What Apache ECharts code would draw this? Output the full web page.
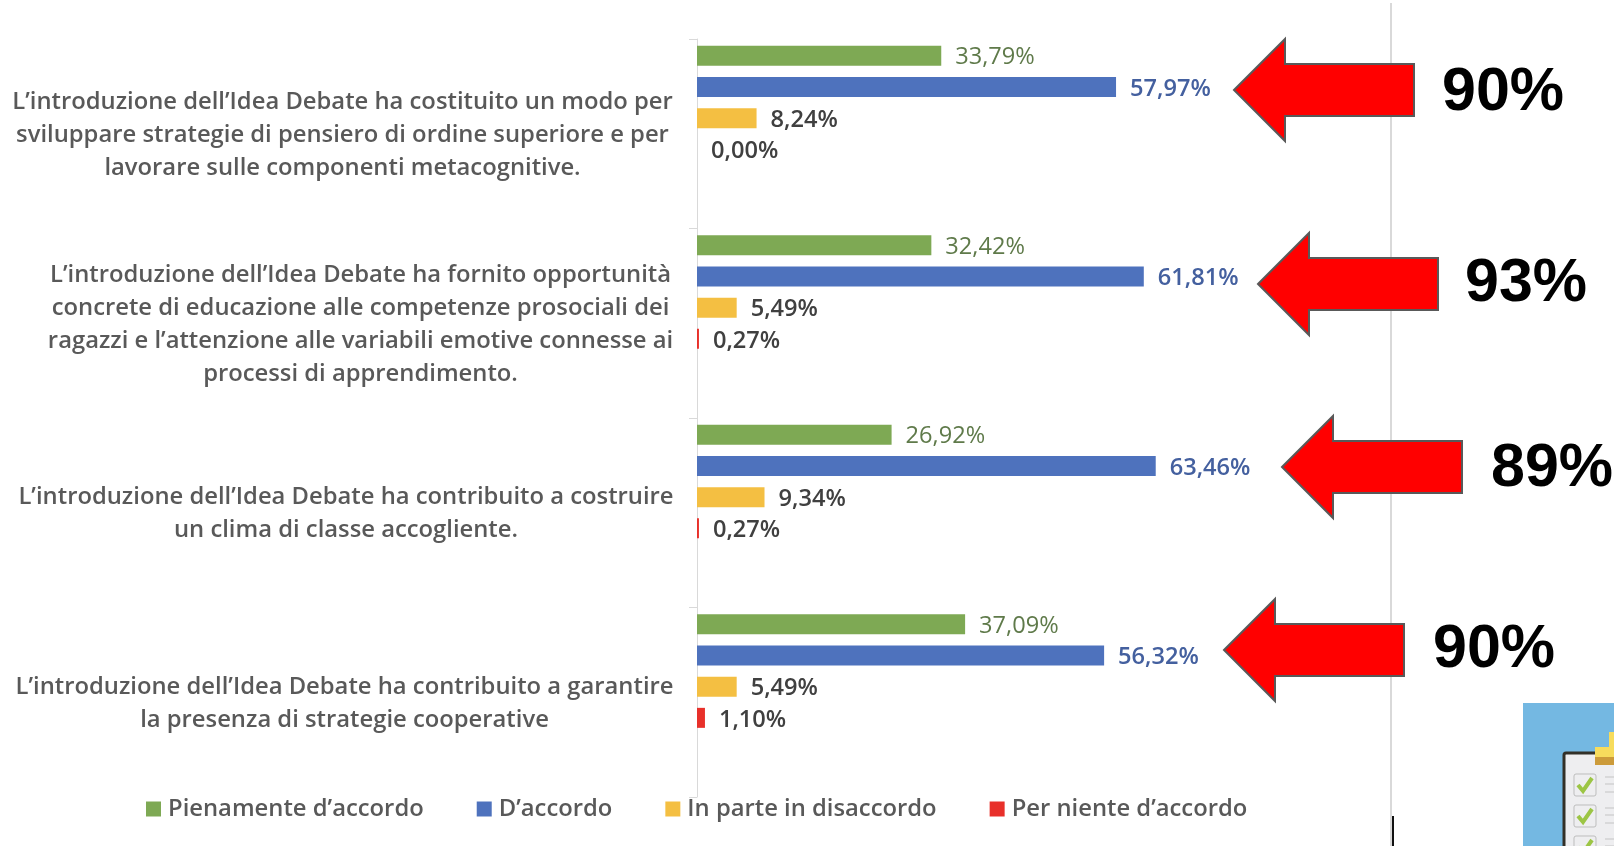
<!DOCTYPE html>
<html>
<head>
<meta charset="utf-8">
<title>Idea Debate</title>
<style>
  html, body { margin: 0; padding: 0; background: #fff; }
  #main { width: 1614px; height: 846px; }
</style>
<script src="https://cdn.jsdelivr.net/npm/echarts@6/dist/echarts.min.js"></script>
</head>
<body>
<div id="main"></div>
<script>
const categories = [
  'L’introduzione dell’Idea Debate ha costituito un modo per\nsviluppare strategie di pensiero di ordine superiore e per\nlavorare sulle componenti metacognitive.',
  'L’introduzione dell’Idea Debate ha fornito opportunità\nconcrete di educazione alle competenze prosociali dei\nragazzi e l’attenzione alle variabili emotive connesse ai\nprocessi di apprendimento.',
  'L’introduzione dell’Idea Debate ha contribuito a costruire\nun clima di classe accogliente.',
  'L’introduzione dell’Idea Debate ha contribuito a garantire\nla presenza di strategie cooperative'
];
const pienamente = [33.79, 32.42, 26.92, 37.09];
const accordo = [57.97, 61.81, 63.46, 56.32];
const inParte = [8.24, 5.49, 9.34, 5.49];
const perNiente = [0.00, 0.27, 0.27, 1.10];
const totals = ['90%', '93%', '89%', '90%'];

const seriesNames = ['Pienamente d’accordo', 'D’accordo', 'In parte in disaccordo', 'Per niente d’accordo'];
const FONT = '"Open Sans", sans-serif';
const GREY = '#595959';

function fmt(p) {
  return p.value.toFixed(2).replace('.', ',') + '%';
}

function barSeries(name, data, color, labelColor, weight) {
  return {
    name: name,
    type: 'bar',
    data: data,
    barWidth: 20,
    barGap: '56%',
    itemStyle: { color: color },
    label: {
      show: true,
      position: 'right',
      distance: 14,
      offset: [0, 2],
      formatter: fmt,
      color: labelColor,
      fontFamily: FONT,
      fontSize: 23.6,
      fontWeight: weight
    }
  };
}

// l'originale Excel ha due serie vuote sotto, per questo i gruppi stanno in alto
function spacer() {
  return { type: 'bar', data: [], barWidth: 20, barGap: '56%', silent: true };
}

// frecce e percentuali a destra
const arrowTips = [[1234, 90], [1258, 284], [1282, 467], [1224, 650]];
const totalPos = [[1442, 93], [1465, 284], [1491, 469], [1433, 650]];

function arrow(tip) {
  const x = tip[0], y = tip[1];
  return {
    type: 'polygon',
    z: 10,
    shape: {
      points: [[x, y], [x + 51, y - 51], [x + 51, y - 26], [x + 180, y - 26],
        [x + 180, y + 26], [x + 51, y + 26], [x + 51, y + 51]]
    },
    style: { fill: '#ff0000', stroke: '#595959', lineWidth: 2 }
  };
}

function checkBox(y) {
  return [
    { type: 'rect', shape: { x: 1574, y: y, width: 22, height: 22, r: 2 },
      style: { fill: '#eeeef0', stroke: '#bdbdbd', lineWidth: 1 } },
    { type: 'polyline', shape: { points: [[1578, y + 11], [1583, y + 17], [1592, y + 4]] },
      style: { fill: null, stroke: '#9cc545', lineWidth: 4 } },
    { type: 'line', shape: { x1: 1605, y1: y + 3, x2: 1614, y2: y + 3 }, style: { stroke: '#c4c4c4', lineWidth: 1 } },
    { type: 'line', shape: { x1: 1605, y1: y + 10, x2: 1614, y2: y + 10 }, style: { stroke: '#c4c4c4', lineWidth: 1 } },
    { type: 'line', shape: { x1: 1605, y1: y + 18, x2: 1614, y2: y + 18 }, style: { stroke: '#c4c4c4', lineWidth: 1 } }
  ];
}

const graphics = [
  { type: 'line', z: 1, shape: { x1: 1391, y1: 3, x2: 1391, y2: 846 }, style: { stroke: '#d9d9d9', lineWidth: 2 } },
  { type: 'line', z: 2, shape: { x1: 1393, y1: 816, x2: 1393, y2: 846 }, style: { stroke: '#111', lineWidth: 2 } },
  { type: 'rect', shape: { x: 1523, y: 703, width: 91, height: 143 }, style: { fill: '#74b8e2' } },
  { type: 'rect', shape: { x: 1564, y: 753, width: 60, height: 100, r: 2 },
    style: { fill: '#eeeef0', stroke: '#333028', lineWidth: 3 } },
  { type: 'rect', shape: { x: 1609, y: 732, width: 5, height: 16 }, style: { fill: '#f7dc5c' } },
  { type: 'rect', shape: { x: 1595, y: 747, width: 19, height: 10 }, style: { fill: '#f7dc5c' } },
  { type: 'rect', shape: { x: 1595, y: 757, width: 19, height: 8 }, style: { fill: '#cc9b3a' } }
].concat(checkBox(774), checkBox(805), checkBox(836));

arrowTips.forEach(function (t) { graphics.push(arrow(t)); });
totals.forEach(function (t, i) {
  graphics.push({
    type: 'text',
    z: 11,
    style: {
      x: totalPos[i][0],
      y: totalPos[i][1],
      text: t,
      fill: '#000',
      font: 'bold 61px "Liberation Sans", Arial, sans-serif',
      textVerticalAlign: 'middle'
    }
  });
});

// larghezza del blocco di testo, per centrare le righe
const labelWidths = [659, 623, 652, 655];
const rich = {};
labelWidths.forEach(function (w, i) {
  rich['c' + i] = {
    width: w,
    align: 'center',
    fontFamily: FONT,
    fontSize: 23.8,
    fontWeight: 600,
    color: GREY,
    lineHeight: 33
  };
});

const chart = echarts.init(document.getElementById('main'));
chart.setOption({
  animation: false,
  backgroundColor: '#fff',
  legend: {
    data: seriesNames,
    left: 141,
    top: 792,
    icon: 'rect',
    itemWidth: 15,
    itemHeight: 15,
    itemGap: 53,
    textStyle: { color: GREY, fontFamily: FONT, fontSize: 23.8, fontWeight: 600, padding: [0, 0, 0, 2] }
  },
  grid: { left: 697, top: 39, width: 506, height: 758 },
  xAxis: { type: 'value', min: 0, max: 70, show: false },
  yAxis: {
    type: 'category',
    inverse: true,
    data: categories,
    axisLine: { show: true, lineStyle: { color: '#d9d9d9', width: 1 } },
    axisTick: { show: true, length: 8, lineStyle: { color: '#d9d9d9' } },
    axisLabel: {
      margin: 25,
      interval: 0,
      padding: [2, 0, 0, 0],
      formatter: function (v, i) { return '{c' + i + '|' + v.split('\n').join('}\n{c' + i + '|') + '}'; },
      rich: rich
    }
  },
  series: [
    barSeries(seriesNames[0], pienamente, '#7ea954', '#5f7a4a', 400),
    barSeries(seriesNames[1], accordo, '#4e72bd', '#44609f', 600),
    barSeries(seriesNames[2], inParte, '#f4bf42', '#404040', 600),
    barSeries(seriesNames[3], perNiente, '#e8302a', '#404040', 600),
    spacer(),
    spacer()
  ],
  graphic: { elements: graphics }
});
</script>
</body>
</html>
